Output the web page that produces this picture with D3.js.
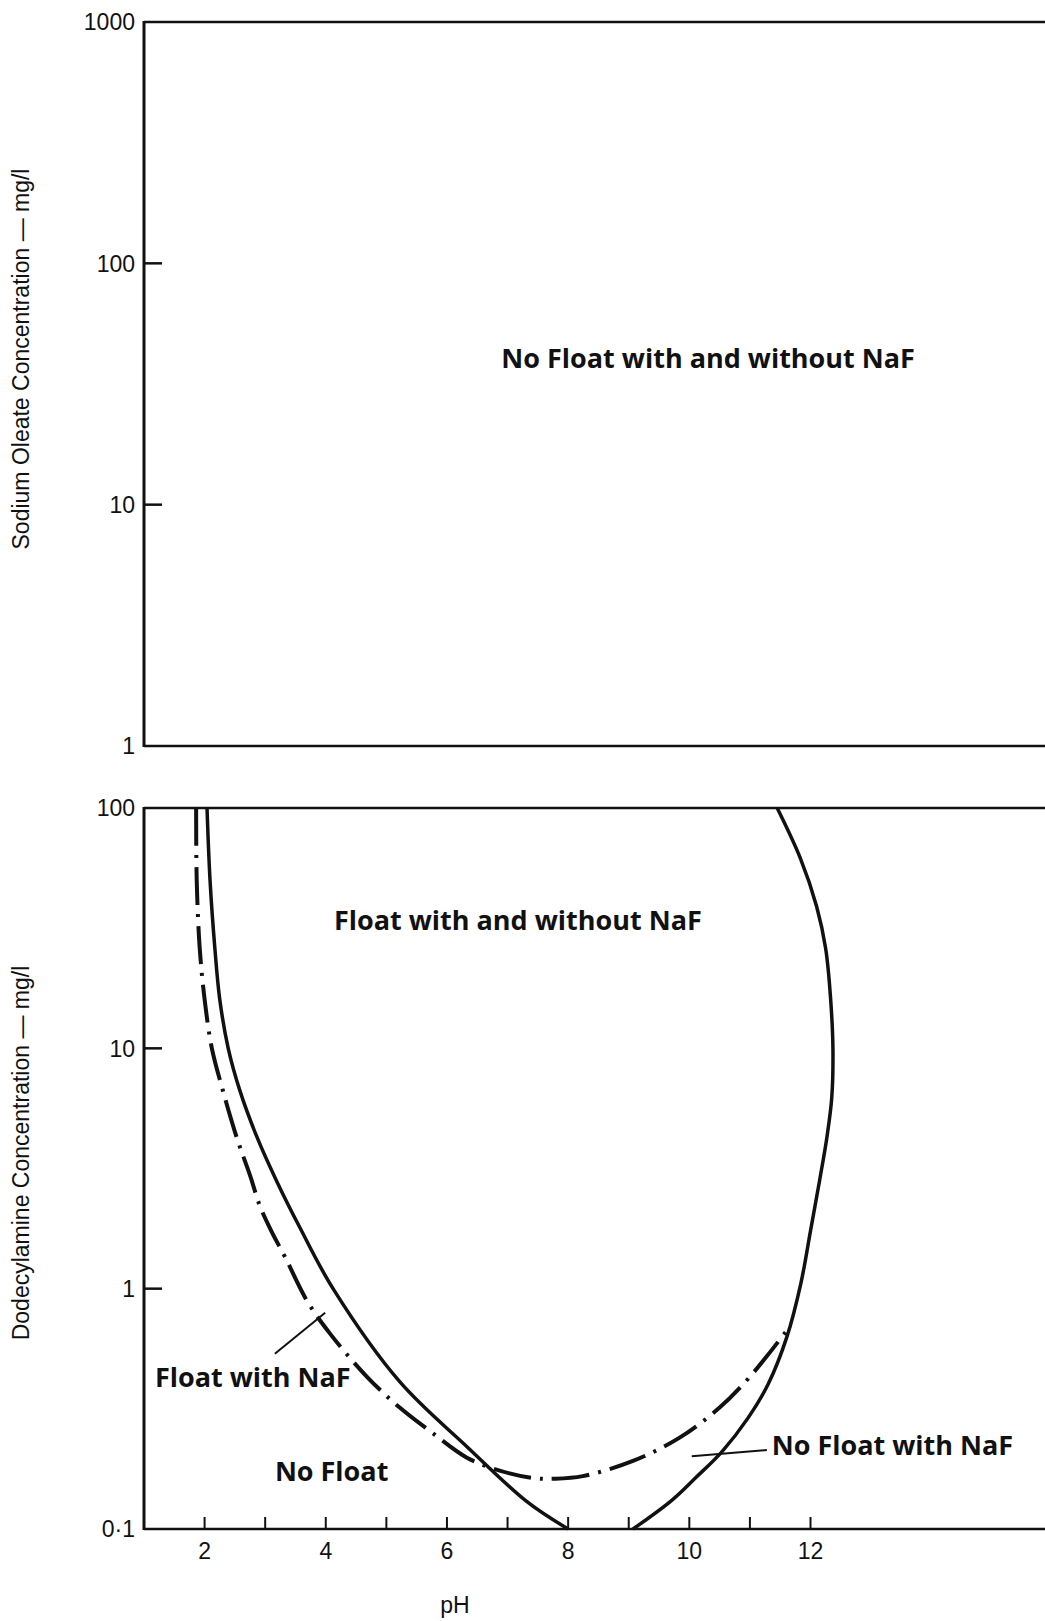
<!DOCTYPE html>
<html lang="en">
<head>
    <meta charset="UTF-8">
    <title>Flotation response vs pH</title>
    <style>
        body { margin: 0; background: #fff; }
        .tick-label { font-family: "Liberation Sans", Arial, sans-serif; font-size: 23px; fill: #111; }
        .axis-title { font-family: "Liberation Sans", Arial, sans-serif; font-size: 23px; fill: #111; }
        .region { font-family: "Open Sans", sans-serif; font-weight: 700; font-size: 27px; fill: #111; }
    </style>
</head>
<body>
    <svg width="1045" height="1621"></svg>
    <script src="https://cdn.jsdelivr.net/npm/d3@7/dist/d3.min.js"></script>
    <script>
        // x axis (pH) shared by both panels
        var phTicks = [2, 3, 4, 5, 6, 7, 8, 9, 10, 11, 12];
        var phLabels = [2, 4, 6, 8, 10, 12];

        // top panel: sodium oleate
        var oleateTicks = [10, 100];
        var oleateLabels = [["1", 1], ["10", 10], ["100", 100], ["1000", 1000]];

        // bottom panel: dodecylamine
        var amineTicks = [1, 10];
        var amineLabels = [["0·1", 0.1], ["1", 1], ["10", 10], ["100", 100]];

        // curves [pH, mg/l]
        var floatLeft = [
            [2.04, 100], [2.09, 50], [2.17, 26], [2.25, 16], [2.39, 10], [2.58, 6.7],
            [2.86, 4.3], [3.19, 2.8], [3.57, 1.8], [4.12, 1.0], [5.22, 0.41],
            [6.33, 0.22], [7.32, 0.13], [8.0, 0.1]
        ];
        var floatRight = [
            [11.45, 100], [11.83, 62], [12.1, 39], [12.25, 26], [12.33, 16.3], [12.37, 10],
            [12.35, 6.2], [12.27, 4.26], [12.15, 2.82], [12.0, 1.74], [11.84, 1.05],
            [11.61, 0.63], [11.3, 0.40], [10.97, 0.29], [10.54, 0.21],
            [10.1, 0.163], [9.7, 0.131], [9.07, 0.1]
        ];
        var withNaF = [
            [1.86, 100], [1.87, 50], [1.92, 26], [2.0, 16], [2.12, 10], [2.3, 6.7],
            [2.53, 4.26], [2.75, 2.96], [2.91, 2.22], [3.1, 1.74], [3.33, 1.35], [3.69, 0.89],
            [4.07, 0.65], [4.68, 0.43], [5.22, 0.32], [5.77, 0.25], [6.33, 0.198],
            [6.87, 0.175], [7.42, 0.163], [7.78, 0.162], [8.24, 0.166], [9.07, 0.192],
            [9.84, 0.24], [10.5, 0.32], [11.0, 0.43], [11.61, 0.67]
        ];

        // region labels [text, pH, mg/l, anchor]
        var topLabels = [["No Float with and without NaF", 10.31, 37, "middle"]];
        var bottomLabels = [
            ["Float with and without NaF", 7.17, 31, "middle"],
            ["Float with NaF", 1.18, 0.39, "start"],
            ["No Float", 3.16, 0.158, "start"],
            ["No Float with NaF", 11.36, 0.204, "start"]
        ];
        // leader lines [[pH, mg/l], [pH, mg/l]]
        var leaders = [
            [[3.16, 0.536], [3.99, 0.794]],
            [[10.04, 0.201], [11.28, 0.213]]
        ];

        var svg = d3.select("svg");
        var left = 144, right = 1045;

        var x = d3.scaleLinear().domain([1, 15.87]).range([left, right]);
        var yTop = d3.scaleLog().domain([1, 1000]).range([746, 22]);
        var yBot = d3.scaleLog().domain([0.1, 100]).range([1529, 808]);

        function frame(y, ticks, labels) {
            var y0 = y.range()[0], y1 = y.range()[1];
            var g = svg.append("g");
            // top border, bottom axis, left axis
            g.append("line").attr("x1", left).attr("x2", right).attr("y1", y1).attr("y2", y1)
                .attr("stroke", "#111").attr("stroke-width", 2.5);
            g.append("line").attr("x1", left).attr("x2", right).attr("y1", y0).attr("y2", y0)
                .attr("stroke", "#111").attr("stroke-width", 2.5);
            g.append("line").attr("x1", left).attr("x2", left).attr("y1", y1 - 1).attr("y2", y0 + 1)
                .attr("stroke", "#111").attr("stroke-width", 3);

            g.selectAll(".ytick").data(ticks).enter().append("line")
                .attr("x1", left).attr("x2", left + 18)
                .attr("y1", function(d) { return y(d); })
                .attr("y2", function(d) { return y(d); })
                .attr("stroke", "#111").attr("stroke-width", 2.5);

            g.selectAll(".ylab").data(labels).enter().append("text")
                .attr("class", "tick-label")
                .attr("x", left - 9)
                .attr("y", function(d) { return y(d[1]); })
                .attr("dy", "0.36em")
                .attr("text-anchor", "end")
                .text(function(d) { return d[0]; });
            return g;
        }

        var gTop = frame(yTop, oleateTicks, oleateLabels);
        var gBot = frame(yBot, amineTicks, amineLabels);

        // pH ticks point up from the bottom axis
        gBot.selectAll(".xtick").data(phTicks).enter().append("line")
            .attr("x1", function(d) { return x(d); })
            .attr("x2", function(d) { return x(d); })
            .attr("y1", yBot(0.1)).attr("y2", yBot(0.1) - 12)
            .attr("stroke", "#111").attr("stroke-width", 2);

        gBot.selectAll(".xlab").data(phLabels).enter().append("text")
            .attr("class", "tick-label")
            .attr("x", function(d) { return x(d); })
            .attr("y", yBot(0.1) + 30)
            .attr("text-anchor", "middle")
            .text(function(d) { return d; });

        svg.append("text").attr("class", "axis-title")
            .attr("x", 455).attr("y", 1613)
            .attr("text-anchor", "middle")
            .text("pH");

        svg.append("text").attr("class", "axis-title")
            .attr("transform", "translate(29," + 359 + ") rotate(-90)")
            .attr("text-anchor", "middle")
            .text("Sodium Oleate Concentration — mg/l");
        svg.append("text").attr("class", "axis-title")
            .attr("transform", "translate(29," + 1153 + ") rotate(-90)")
            .attr("text-anchor", "middle")
            .text("Dodecylamine Concentration — mg/l");

        // curves in bottom panel
        var line = d3.line()
            .x(function(d) { return x(d[0]); })
            .y(function(d) { return yBot(d[1]); })
            .curve(d3.curveCatmullRom.alpha(0.5));

        gBot.append("path").datum(floatLeft).attr("d", line)
            .attr("fill", "none").attr("stroke", "#111").attr("stroke-width", 3.5);
        gBot.append("path").datum(floatRight).attr("d", line)
            .attr("fill", "none").attr("stroke", "#111").attr("stroke-width", 3.5);
        gBot.append("path").datum(withNaF).attr("d", line)
            .attr("fill", "none").attr("stroke", "#111").attr("stroke-width", 4)
            .attr("stroke-dasharray", "38,9,3,9");

        gBot.selectAll(".leader").data(leaders).enter().append("line")
            .attr("x1", function(d) { return x(d[0][0]); })
            .attr("y1", function(d) { return yBot(d[0][1]); })
            .attr("x2", function(d) { return x(d[1][0]); })
            .attr("y2", function(d) { return yBot(d[1][1]); })
            .attr("stroke", "#111").attr("stroke-width", 2);

        gTop.selectAll(".region").data(topLabels).enter().append("text")
            .attr("class", "region")
            .attr("x", function(d) { return x(d[1]); })
            .attr("y", function(d) { return yTop(d[2]); })
            .attr("text-anchor", function(d) { return d[3]; })
            .text(function(d) { return d[0]; });

        gBot.selectAll(".region").data(bottomLabels).enter().append("text")
            .attr("class", "region")
            .attr("x", function(d) { return x(d[1]); })
            .attr("y", function(d) { return yBot(d[2]); })
            .attr("text-anchor", function(d) { return d[3]; })
            .text(function(d) { return d[0]; });
    </script>
</body>
</html>
